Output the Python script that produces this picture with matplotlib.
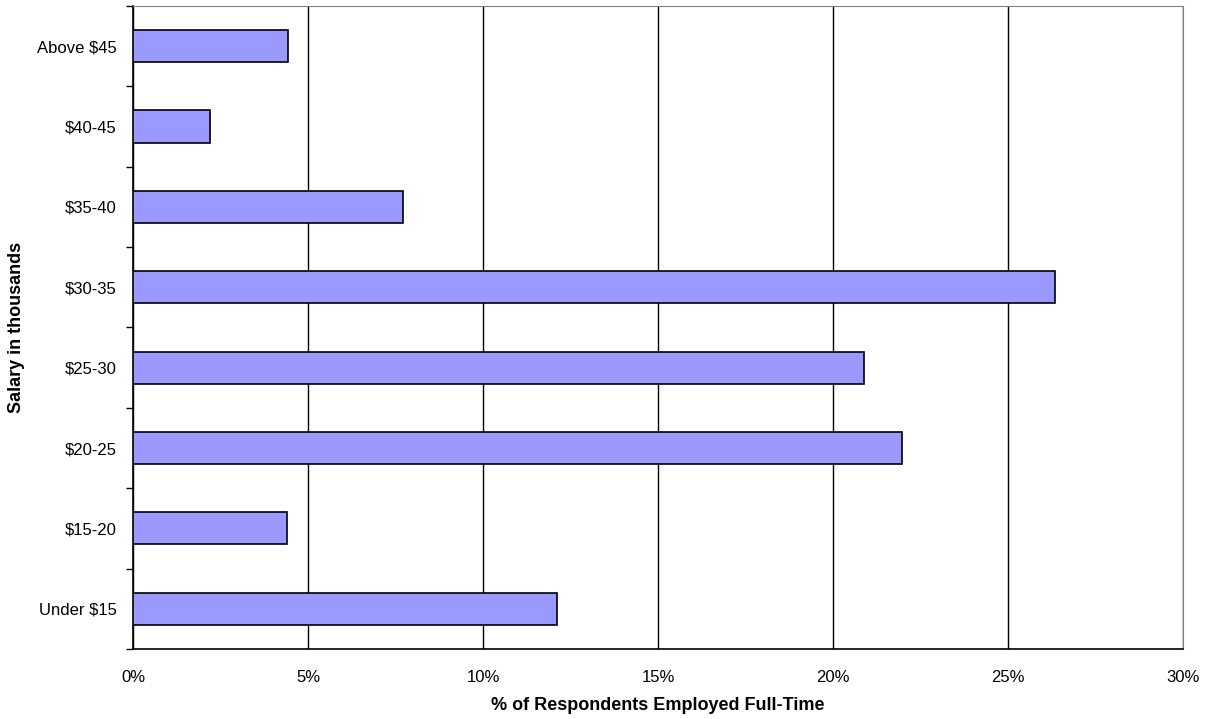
import matplotlib
matplotlib.use("Agg")
import matplotlib.pyplot as plt
from matplotlib.ticker import FuncFormatter, MultipleLocator

plt.rcParams['font.family'] = ['Liberation Sans', 'DejaVu Sans']

# salary brackets, bottom to top
categories = ["Under $15", "$15-20", "$20-25", "$25-30", "$30-35", "$35-40", "$40-45", "Above $45"]
percent = [12.1, 4.4, 21.96, 20.87, 26.33, 7.7, 2.18, 4.41]

fig = plt.figure(figsize=(12.07, 7.19), dpi=100)
ax = fig.add_axes([0.1104, 0.0974, 0.8699, 0.8943])

ypos = list(range(len(categories)))
ax.barh(ypos, percent, height=0.4, color="#9999FF", edgecolor="black", linewidth=1.2, zorder=3)

ax.set_xlim(0, 30)
ax.set_ylim(-0.5, len(categories) - 0.5)
ax.xaxis.set_major_locator(MultipleLocator(5))
ax.xaxis.set_major_formatter(FuncFormatter(lambda v, p: f"{v:.0f}%"))
ax.set_yticks(ypos)
ax.set_yticklabels(categories)
ax.set_yticks([y - 0.5 for y in range(len(categories) + 1)], minor=True)

ax.tick_params(axis="x", length=0, labelsize=12, pad=15)
ax.tick_params(axis="y", which="major", length=0, labelsize=12, pad=12)
ax.tick_params(axis="y", which="minor", length=5, width=1, direction="out")

ax.grid(axis="x", color="black", linewidth=1, zorder=0)
for s in ["top", "right"]:
    ax.spines[s].set_color("#808080")
for s in ["left", "bottom"]:
    ax.spines[s].set_color("black")
    ax.spines[s].set_linewidth(1.2)

# axis titles placed in figure pixels to match the original layout
fig.text(658 / 1207, 1 - 705 / 719, "% of Respondents Employed Full-Time",
         fontsize=13, fontweight="bold", ha="center", va="center")
fig.text(17 / 1207, 1 - 327 / 719, "Salary in thousands",
         fontsize=13, fontweight="bold", ha="center", va="center", rotation=90)

fig.savefig("out.png", dpi=100)
